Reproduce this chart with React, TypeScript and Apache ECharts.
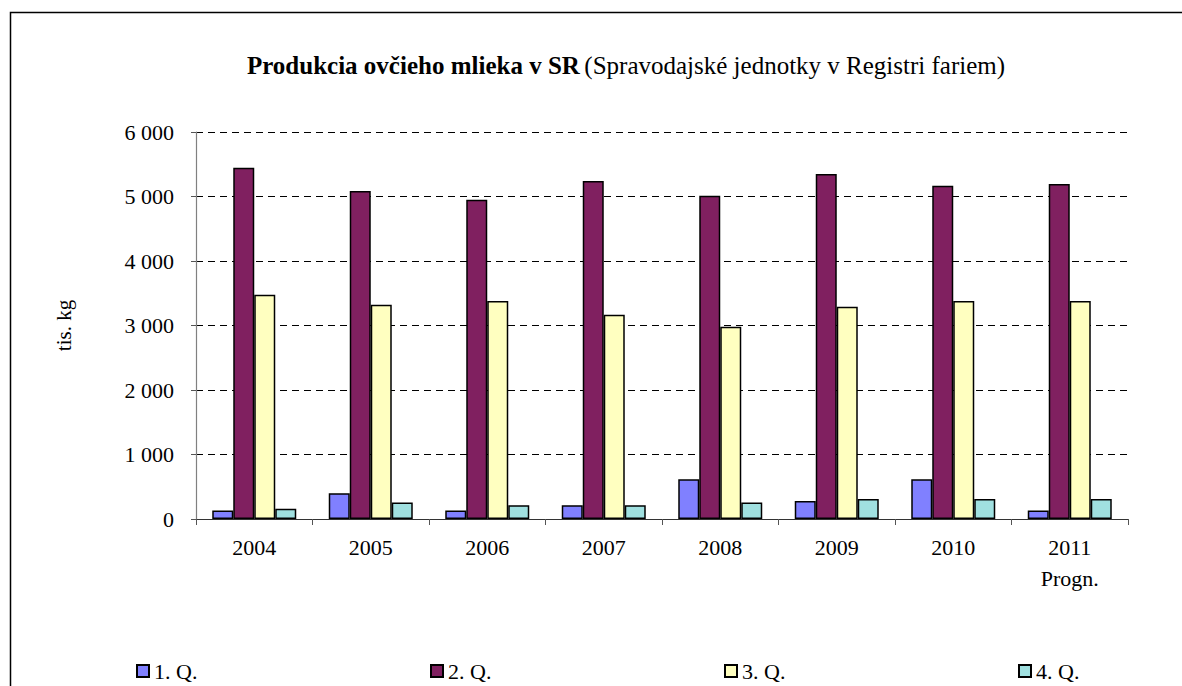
import React, { useEffect, useRef } from "react";
import * as echarts from "echarts";

const categories = ["2004", "2005", "2006", "2007", "2008", "2009", "2010", "2011\nProgn."];
const seriesNames = ["1. Q.", "2. Q.", "3. Q.", "4. Q."];
const q1 = [130, 400, 130, 215, 615, 280, 615, 130];
const q2 = [5445, 5085, 4950, 5240, 5010, 5350, 5165, 5195];
const q3 = [3475, 3320, 3380, 3165, 2980, 3290, 3380, 3380];
const q4 = [160, 255, 215, 215, 255, 310, 310, 310];
const yTicks = [0, 1000, 2000, 3000, 4000, 5000, 6000];

const colors = ["#8080FF", "#802060", "#FFFFC0", "#A0E0E0"];
const FONT = "'Liberation Serif', 'Times New Roman', serif";

export default function App() {
  const ref = useRef<HTMLDivElement>(null);
  useEffect(() => {
    document.body.style.margin = "0";
    const chart = echarts.init(ref.current!, undefined, { renderer: "svg" });
    const data = [q1, q2, q3, q4];
    const legendLefts = [136, 430, 724, 1018];
    chart.setOption({
      animation: false,
      backgroundColor: "#ffffff",
      textStyle: { fontFamily: FONT, color: "#000" },
      title: {
        text: "{b|Produkcia ovčieho mlieka v SR} {n|(Spravodajské jednotky v Registri fariem)}",
        left: 621,
        textAlign: "center",
        top: 48,
        textStyle: {
          rich: {
            b: { fontFamily: FONT, fontSize: 25, fontWeight: "bold", color: "#000" },
            n: { fontFamily: FONT, fontSize: 25, fontWeight: "normal", color: "#000" },
          },
        },
      },
      graphic: [
        {
          type: "rect",
          shape: { x: 10.5, y: 12.5, width: 1200, height: 700 },
          style: { fill: "none", stroke: "#000", lineWidth: 1.5 },
          silent: true,
          z: -1,
        },
      ],
      legend: seriesNames.map((n, i) => ({
        data: [n],
        left: legendLefts[i],
        top: 660,
        padding: 0,
        itemWidth: 12,
        itemHeight: 12,
        itemGap: 4,
        icon: "rect",
        textStyle: { fontFamily: FONT, fontSize: 22, color: "#000" },
      })),
      grid: { left: 196, right: 54, top: 132, bottom: 167 },
      xAxis: {
        type: "category",
        data: categories,
        boundaryGap: true,
        axisLine: { lineStyle: { color: "#333", width: 1.2 } },
        axisTick: { show: true, length: 6, lineStyle: { color: "#555" } },
        axisLabel: {
          fontFamily: FONT,
          fontSize: 22,
          color: "#000",
          margin: 13,
          lineHeight: 31,
          align: "center",
        },
      },
      yAxis: {
        type: "value",
        min: 0,
        max: 6000,
        interval: 1000,
        name: "tis. kg",
        nameLocation: "middle",
        nameRotate: 90,
        nameGap: 122,
        nameTextStyle: { fontFamily: FONT, fontSize: 21, color: "#000" },
        axisLine: { show: true, lineStyle: { color: "#808080", width: 1.2 } },
        axisTick: { show: true, length: 5, lineStyle: { color: "#555" } },
        axisLabel: {
          fontFamily: FONT,
          fontSize: 22,
          color: "#000",
          margin: 22,
          formatter: (v: number) => (yTicks.includes(v) ? String(v).replace(/\B(?=(\d{3})+(?!\d))/g, " ") : ""),
        },
        splitLine: { show: true, lineStyle: { color: "#000", type: [7, 5], width: 1 } },
      },
      series: seriesNames.map((n, i) => ({
        name: n,
        type: "bar",
        data: data[i],
        barWidth: 21,
        barGap: "0%",
        itemStyle: { color: colors[i], borderColor: "#000", borderWidth: 1.5 },
      })),
    });
    return () => chart.dispose();
  }, []);
  return <div ref={ref} style={{ position: "absolute", left: 0, top: 0, width: 1182, height: 686 }} />;
}
